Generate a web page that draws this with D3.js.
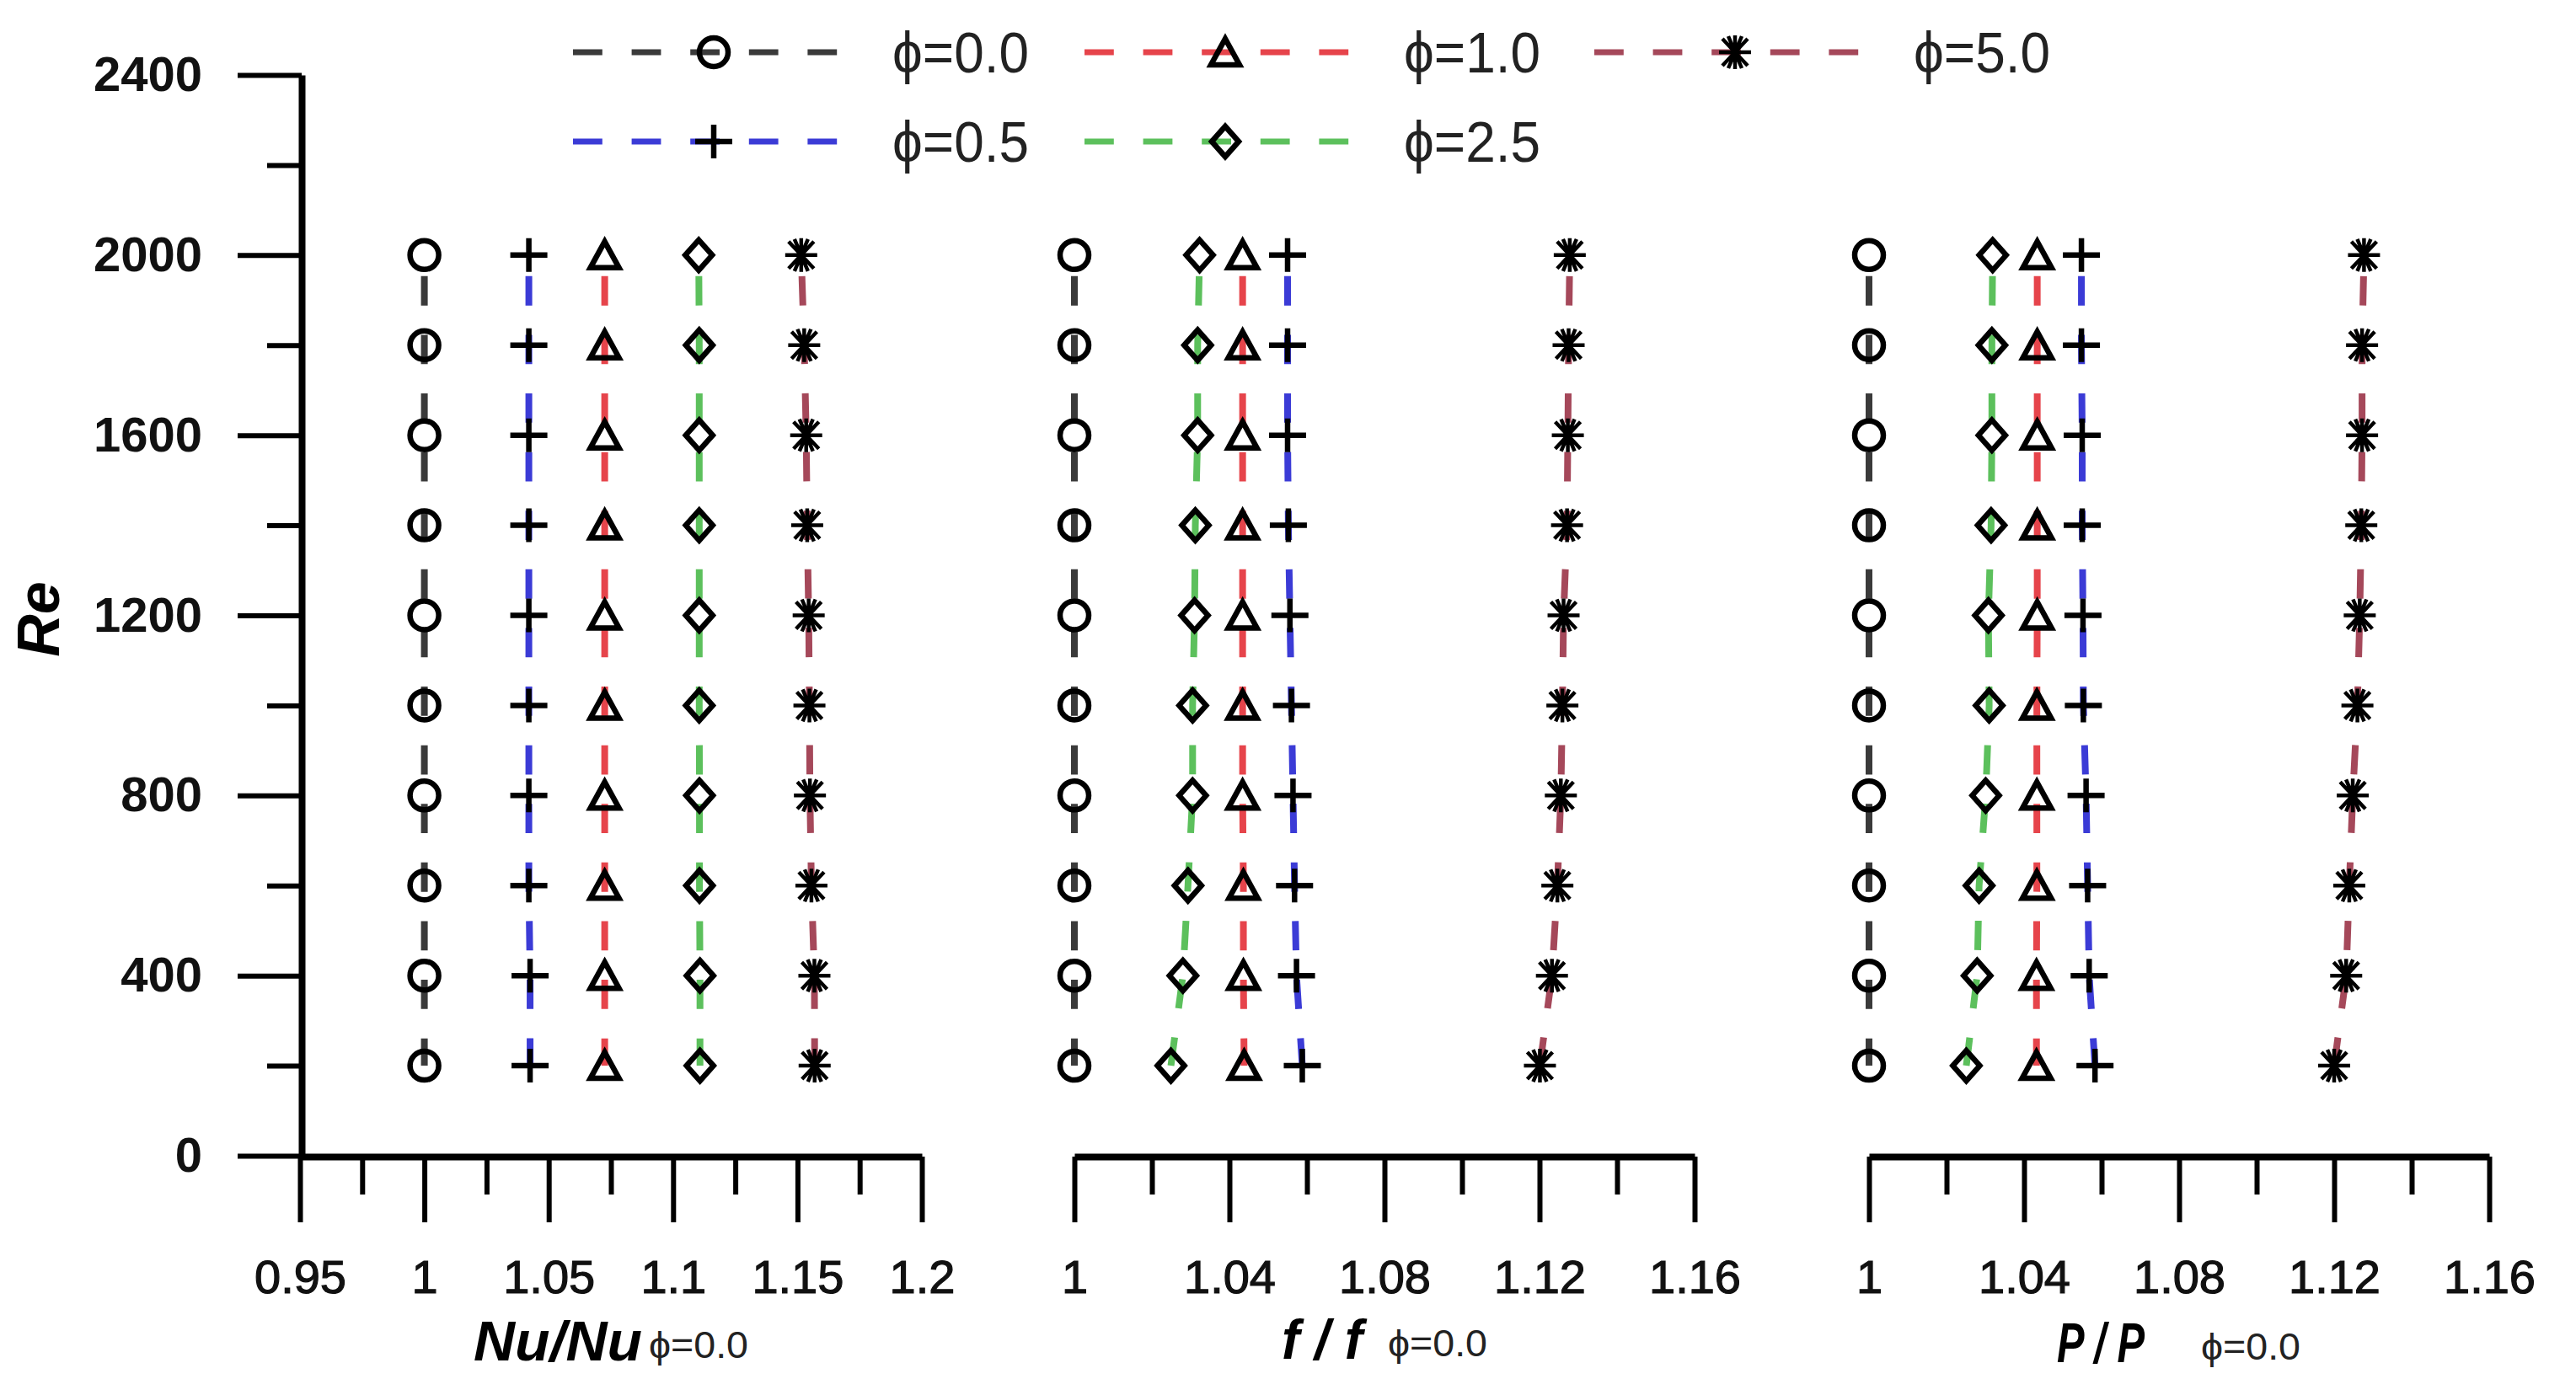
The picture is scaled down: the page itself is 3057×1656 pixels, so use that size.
<!DOCTYPE html>
<html>
<head>
<meta charset="utf-8">
<script src="https://cdn.jsdelivr.net/npm/d3@7"></script>
<style>
    body { margin: 0; background: #fff; }
    svg { display: block; font-family: "Liberation Sans", Arial, sans-serif; }
</style>
</head>
<body>
<div id="chart"></div>
<script>
// Re levels, top row first (lines are drawn downward from Re=2000)
var reValues = [2000, 1800, 1600, 1400, 1200, 1000, 800, 600, 400, 200];
var phiNames = ["ϕ=0.0", "ϕ=0.5", "ϕ=1.0", "ϕ=2.5", "ϕ=5.0"];

// one array per phi, same order as reValues
var nuRatio = [
    [1, 1, 1, 1, 1, 1, 1, 1, 1, 1],
    [1.042, 1.042, 1.042, 1.042, 1.042, 1.042, 1.042, 1.042, 1.0425, 1.0425],
    [1.0725, 1.0725, 1.0725, 1.0725, 1.0725, 1.0725, 1.0725, 1.0725, 1.0725, 1.0725],
    [1.1103, 1.1105, 1.1105, 1.1105, 1.1105, 1.1105, 1.1106, 1.1106, 1.1108, 1.1108],
    [1.1515, 1.1527, 1.1535, 1.1539, 1.1545, 1.1548, 1.155, 1.1556, 1.1568, 1.1569]
];
var fRatio = [
    [1, 1, 1, 1, 1, 1, 1, 1, 1, 1],
    [1.055, 1.055, 1.055, 1.0552, 1.0556, 1.056, 1.0564, 1.0568, 1.0573, 1.0588],
    [1.0434, 1.0434, 1.0434, 1.0434, 1.0434, 1.0434, 1.0434, 1.0436, 1.0436, 1.0438],
    [1.0323, 1.0318, 1.0318, 1.0312, 1.031, 1.0305, 1.0305, 1.0293, 1.028, 1.0249],
    [1.1278, 1.1275, 1.1273, 1.1271, 1.1262, 1.1259, 1.1255, 1.1246, 1.1232, 1.1201]
];
var pRatio = [
    [1, 1, 1, 1, 1, 1, 1, 1, 1, 1],
    [1.0548, 1.0548, 1.055, 1.055, 1.0552, 1.0553, 1.056, 1.0564, 1.0568, 1.0583],
    [1.0434, 1.0434, 1.0434, 1.0434, 1.0434, 1.0433, 1.0433, 1.0433, 1.0432, 1.0432],
    [1.0319, 1.0317, 1.0317, 1.0315, 1.0308, 1.031, 1.0301, 1.0284, 1.0279, 1.0251],
    [1.1277, 1.1272, 1.1272, 1.127, 1.1266, 1.126, 1.1248, 1.1239, 1.1231, 1.12]
];

var reTicks = [0, 400, 800, 1200, 1600, 2000, 2400];
var reMinor = [200, 600, 1000, 1400, 1800, 2200];
var nuTicks = [0.95, 1, 1.05, 1.1, 1.15, 1.2];
var nuMinor = [0.975, 1.025, 1.075, 1.125, 1.175];
var ratioTicks = [1, 1.04, 1.08, 1.12, 1.16];
var ratioMinor = [1.02, 1.06, 1.1, 1.14];

var seriesColor = ["#3a3a3a", "#3b3bd6", "#e6444b", "#5cc05c", "#a5485a"];
var seriesMark = ["circle", "plus", "triangle", "diamond", "star"];

var width = 3057,
    height = 1656,
    axisY = 1373,
    dash = "34.8,34.8";

var svg = d3.select("#chart")
    .append("svg")
    .attr("width", width)
    .attr("height", height);

var y = d3.scaleLinear().domain([0, 2400]).range([1372, 89]);

var panels = [
    { values: nuRatio, domain: [0.95, 1.2], range: [356, 1094], ticks: nuTicks, minor: nuMinor },
    { values: fRatio, domain: [1, 1.16], range: [1275, 2011], ticks: ratioTicks, minor: ratioMinor },
    { values: pRatio, domain: [1, 1.16], range: [2218, 2954], ticks: ratioTicks, minor: ratioMinor }
];

function drawMark(g, kind) {
    if (kind === "circle") {
        g.append("circle").attr("r", 17);
    } else {
        var d = {
            plus: "M-22,0H22M0,-20V20",
            triangle: "M0,-16L17,15H-17Z",
            diamond: "M0,-18L16,0L0,18L-16,0Z",
            star: "M0,-20V20M-19,0H19M-15,-16L15,16M-15,16L15,-16M-8,-19L8,19M-8,19L8,-19"
        }[kind];
        g.append("path").attr("d", d);
    }
    g.selectAll("circle, path")
        .style("fill", "none")
        .style("stroke", "#000")
        .style("stroke-width", kind === "star" ? 4.5 : 6.5)
        .style("stroke-linejoin", "miter");
}

function styleAxis(g, w) {
    g.select(".domain").style("stroke", "#000").style("stroke-width", w);
    g.selectAll(".tick line").style("stroke", "#000").style("stroke-width", 6);
}

// y axis (only on the first panel)
var yMinor = svg.append("g")
    .attr("transform", "translate(358,0)")
    .call(d3.axisLeft(y).tickValues(reMinor).tickSize(41).tickSizeOuter(0).tickFormat(""));
styleAxis(yMinor, 0);

var yAxis = svg.append("g")
    .attr("transform", "translate(358,0)")
    .call(d3.axisLeft(y).tickValues(reTicks).tickSize(76).tickSizeOuter(0).tickPadding(42)
        .tickFormat(function (d) { return String(d); }));
styleAxis(yAxis, 8);
yAxis.selectAll(".tick text")
    .style("font-size", "58px")
    .style("font-weight", "bold")
    .style("fill", "#111");

svg.append("text")
    .attr("transform", "translate(70,735) rotate(-90)")
    .attr("text-anchor", "middle")
    .style("font-size", "70px")
    .style("font-weight", "bold")
    .style("font-style", "italic")
    .text("Re");

var line = d3.line()
    .y(function (d) { return y(d.re); });

panels.forEach(function (p) {
    var x = d3.scaleLinear().domain(p.domain).range(p.range);

    var minorAxis = svg.append("g")
        .attr("transform", "translate(0," + axisY + ")")
        .call(d3.axisBottom(x).tickValues(p.minor).tickSize(45).tickSizeOuter(0).tickFormat(""));
    styleAxis(minorAxis, 0);

    var xAxis = svg.append("g")
        .attr("transform", "translate(0," + axisY + ")")
        .call(d3.axisBottom(x).tickValues(p.ticks).tickSize(78).tickSizeOuter(0).tickPadding(44)
            .tickFormat(function (d) { return String(d); }));
    styleAxis(xAxis, 8);
    xAxis.selectAll(".tick text")
        .style("font-size", "56px")
        .style("fill", "#111")
        .style("stroke", "#111")
        .style("stroke-width", 1.2);

    line.x(function (d) { return x(d.v); });

    p.values.forEach(function (vals, i) {
        var pts = reValues.map(function (re, k) { return { re: re, v: vals[k] }; });

        svg.append("path")
            .datum(pts)
            .attr("d", line)
            .style("fill", "none")
            .style("stroke", seriesColor[i])
            .style("stroke-width", 8)
            .style("stroke-dasharray", dash)
            .style("stroke-dashoffset", 44.6);

        svg.selectAll(null)
            .data(pts)
            .enter()
            .append("g")
            .attr("transform", function (d) { return "translate(" + x(d.v) + "," + y(d.re) + ")"; })
            .each(function () { drawMark(d3.select(this), seriesMark[i]); });
    });
});

// axis titles: bold italic ratio with a small phi subscript
function axisTitle(main, x0, mainLen, subX, base) {
    svg.append("text")
        .attr("x", x0)
        .attr("y", base)
        .attr("textLength", mainLen)
        .attr("lengthAdjust", "spacingAndGlyphs")
        .style("font-size", "66px")
        .style("font-weight", "bold")
        .style("font-style", "italic")
        .text(main);
    svg.append("text")
        .attr("x", subX)
        .attr("y", base - 3)
        .attr("textLength", 118)
        .attr("lengthAdjust", "spacingAndGlyphs")
        .style("font-size", "44px")
        .style("fill", "#222")
        .text("ϕ=0.0");
}
axisTitle("Nu/Nu", 562, 200, 770, 1615);
axisTitle("f / f", 1521, 96, 1647, 1613);
axisTitle("P / P", 2441, 104, 2612, 1617);

// legend: two rows, three columns
var legendCols = [680, 1287, 1892],
    legendRows = [62, 168];

phiNames.forEach(function (name, i) {
    var x0 = legendCols[Math.floor(i / 2)],
        ly = legendRows[i % 2],
        g = svg.append("g").attr("transform", "translate(" + x0 + "," + ly + ")");

    g.append("line")
        .attr("x1", 0).attr("x2", 316)
        .style("stroke", seriesColor[i])
        .style("stroke-width", 7)
        .style("stroke-dasharray", dash);

    drawMark(g.append("g").attr("transform", "translate(167,0)"), seriesMark[i]);

    g.append("text")
        .attr("x", 379)
        .attr("y", 24)
        .attr("textLength", 162)
        .attr("lengthAdjust", "spacingAndGlyphs")
        .style("font-size", "68px")
        .style("fill", "#222")
        .text(name);
});
</script>
</body>
</html>
